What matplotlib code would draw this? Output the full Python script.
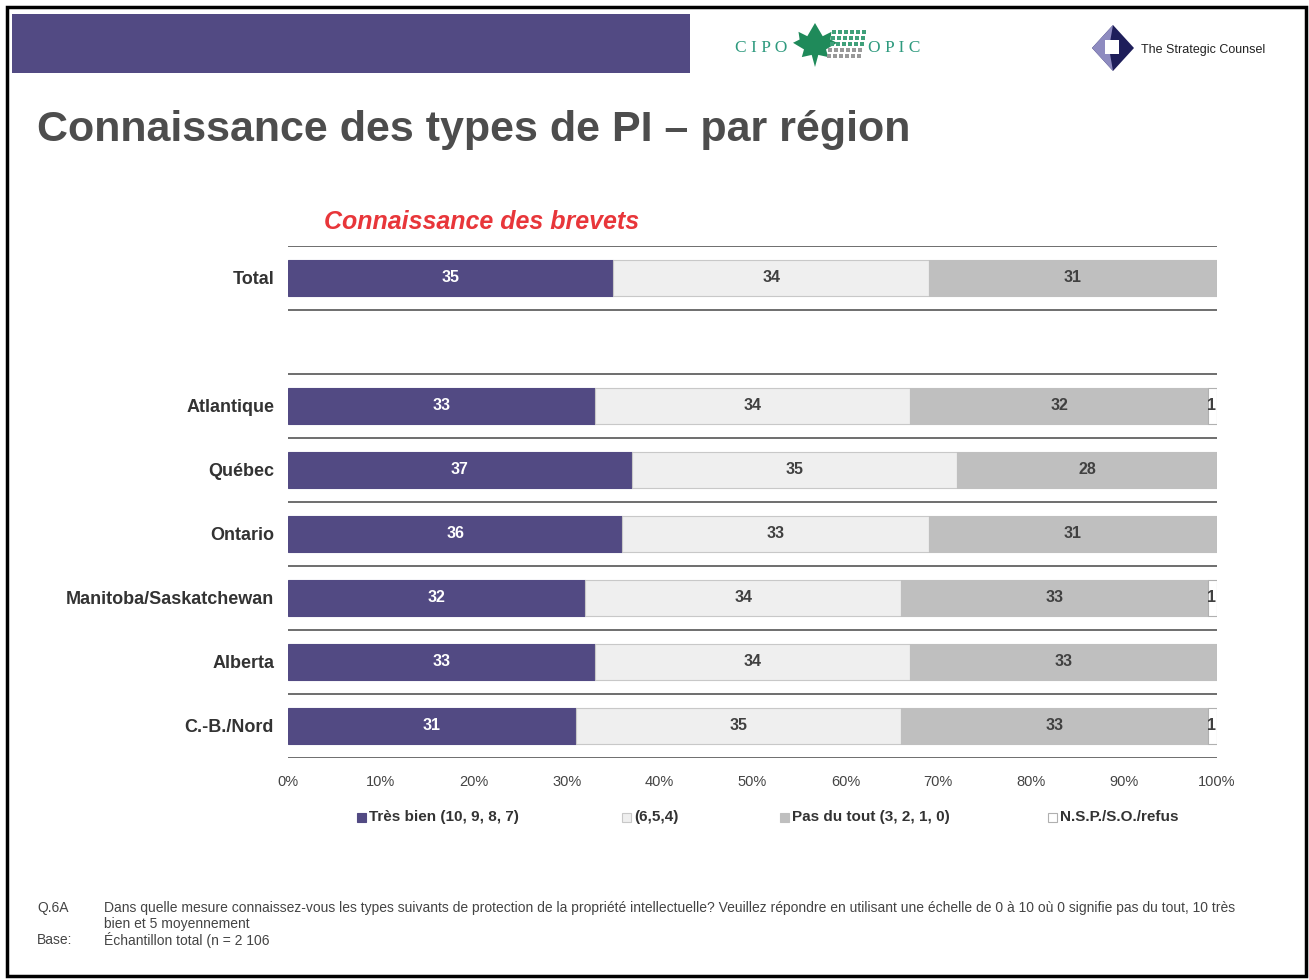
import matplotlib.pyplot as plt
from matplotlib.patches import Rectangle, Polygon
import numpy as np

plt.rcParams['font.family'] = ['Liberation Sans', 'DejaVu Sans']

regions = ["Total", "Atlantique", "Québec", "Ontario",
           "Manitoba/Saskatchewan", "Alberta", "C.-B./Nord"]
tres_bien = [35, 33, 37, 36, 32, 33, 31]
moyen = [34, 34, 35, 33, 34, 34, 35]
pas_du_tout = [31, 32, 28, 31, 33, 33, 33]
nsp = [0, 1, 0, 0, 1, 0, 1]
legend_labels = ["Très bien (10, 9, 8, 7)", "(6,5,4)",
                 "Pas du tout (3, 2, 1, 0)", "N.S.P./S.O./refus"]
ticks = [0, 10, 20, 30, 40, 50, 60, 70, 80, 90, 100]

colors = ["#524A83", "#EFEFEF", "#BFBFBF", "#FFFFFF"]
edges = ["#524A83", "#C8C8C8", "#BFBFBF", "#B0B0B0"]
txt_colors = ["white", "#404040", "#404040", "#404040"]

W, H = 1309, 980
fig = plt.figure(figsize=(W / 100, H / 100), dpi=100)

def fx(px):
    return px / W

def fy(py):
    return 1 - py / H

# page frame and header banner
fig.patches.append(Rectangle((fx(7), fy(976)), fx(1299), 969 / H, fill=False,
                             edgecolor="black", linewidth=2.5, transform=fig.transFigure))
fig.patches.append(Rectangle((fx(12), fy(73)), fx(678), 59 / H, facecolor="#524A83",
                             edgecolor="none", transform=fig.transFigure))

# CIPO / OPIC logo (approximation)
teal = "#2E9A7E"
fig.text(fx(735), fy(48), "C I P O", color=teal, fontsize=12.5, family="Liberation Serif",
         va="center", ha="left")
fig.text(fx(868), fy(48), "O P I C", color=teal, fontsize=12.5, family="Liberation Serif",
         va="center", ha="left")
leaf = np.array([[0, -1], [0.15, -0.45], [0.6, -0.55], [0.5, -0.2], [1.0, 0.1], [0.7, 0.25],
                 [0.75, 0.6], [0.35, 0.4], [0, 1], [-0.35, 0.4], [-0.75, 0.6], [-0.7, 0.25],
                 [-1.0, 0.1], [-0.5, -0.2], [-0.6, -0.55], [-0.15, -0.45]])
fig.patches.append(Polygon(np.column_stack([fx(815 + 22 * leaf[:, 0]), fy(45 - 22 * leaf[:, 1])]),
                           closed=True, facecolor="#1F8A5A", edgecolor="none",
                           transform=fig.transFigure))
for i in range(5):
    for j in range(6):
        x0 = 832 + j * 6 + i * -1.2
        y0 = 30 + i * 6
        fig.patches.append(Rectangle((fx(x0), fy(y0 + 4)), fx(4), 4 / H,
                                     facecolor="#3FA07A" if i < 3 else "#999999",
                                     edgecolor="none", transform=fig.transFigure))

# Strategic Counsel logo (approximation)
cx, cy = 1113, 48
fig.patches.append(Polygon([[fx(cx), fy(cy - 23)], [fx(cx + 21), fy(cy)], [fx(cx), fy(cy + 23)],
                            [fx(cx - 21), fy(cy)]], closed=True, facecolor="#1E1E5A",
                           edgecolor="none", transform=fig.transFigure))
fig.patches.append(Polygon([[fx(cx), fy(cy - 23)], [fx(cx - 21), fy(cy)], [fx(cx), fy(cy + 23)],
                            [fx(cx - 4), fy(cy)]], closed=True, facecolor="#8E8BC0",
                           edgecolor="none", transform=fig.transFigure))
fig.patches.append(Rectangle((fx(cx - 8), fy(cy + 6)), fx(14), 14 / H, facecolor="white",
                             edgecolor="none", transform=fig.transFigure))
fig.text(fx(1141), fy(50), "The Strategic Counsel", fontsize=9, color="#222222",
         va="center", ha="left")

# titles
fig.text(fx(37), fy(130), "Connaissance des types de PI – par région", fontsize=31,
         fontweight="bold", color="#4D4D4D", va="center", ha="left")
fig.text(fx(482), fy(222), "Connaissance des brevets", fontsize=18, fontweight="bold",
         fontstyle="italic", color="#E8363A", va="center", ha="center")

# chart
ax = fig.add_axes([fx(288), fy(758), fx(929), 512 / H])
ypos = [0] + list(range(2, len(regions) + 1))
series = [tres_bien, moyen, pas_du_tout, nsp]
left = np.zeros(len(regions))
for k, vals in enumerate(series):
    vals = np.array(vals, dtype=float)
    ax.barh(ypos, vals, left=left, height=0.56, color=colors[k], edgecolor=edges[k],
            linewidth=0.8)
    for y, l, v in zip(ypos, left, vals):
        if v <= 0:
            continue
        xt = l + v / 2 if v > 2 else l + v - 0.1
        ax.text(xt, y, f"{int(v)}", ha="center" if v > 2 else "right", va="center",
                fontsize=11.5, fontweight="bold", color=txt_colors[k])
    left += vals

for y in [-0.5, 0.5, 1.5, 2.5, 3.5, 4.5, 5.5, 6.5, 7.5]:
    ax.axhline(y, color="#555555", linewidth=1.2)

ax.set_xlim(0, 100)
ax.set_ylim(7.5, -0.5)
ax.set_yticks(ypos)
ax.set_yticklabels(regions, fontsize=13, fontweight="bold", color="#333333")
ax.set_xticks(ticks)
ax.set_xticklabels([f"{t}%" for t in ticks], fontsize=10.5, color="#444444")
ax.tick_params(axis="both", length=0)
ax.tick_params(axis="x", pad=12)
ax.tick_params(axis="y", pad=10)
for s in ax.spines.values():
    s.set_visible(False)

# legend
leg_x = [357, 622, 780, 1048]
for k, lab in enumerate(legend_labels):
    fig.patches.append(Rectangle((fx(leg_x[k]), fy(822)), fx(9), 9 / H, facecolor=colors[k],
                                 edgecolor=edges[k] if k > 0 else colors[k], linewidth=0.8,
                                 transform=fig.transFigure))
    fig.text(fx(leg_x[k] + 12), fy(817), lab, fontsize=11, fontweight="bold",
             color="#333333", va="center", ha="left")

# footnote
fs = 10
fig.text(fx(37), fy(908), "Q.6A", fontsize=fs, color="#444444", va="center")
fig.text(fx(104), fy(908), "Dans quelle mesure connaissez-vous les types suivants de protection de la "
         "propriété intellectuelle? Veuillez répondre en utilisant une échelle de 0 à 10 où 0 "
         "signifie pas du tout, 10 très", fontsize=fs, color="#444444", va="center")
fig.text(fx(104), fy(924), "bien et 5 moyennement", fontsize=fs, color="#444444", va="center")
fig.text(fx(37), fy(940), "Base:", fontsize=fs, color="#444444", va="center")
fig.text(fx(104), fy(940), "Échantillon total (n = 2 106", fontsize=fs, color="#444444", va="center")

fig.savefig("out.png", dpi=100)
